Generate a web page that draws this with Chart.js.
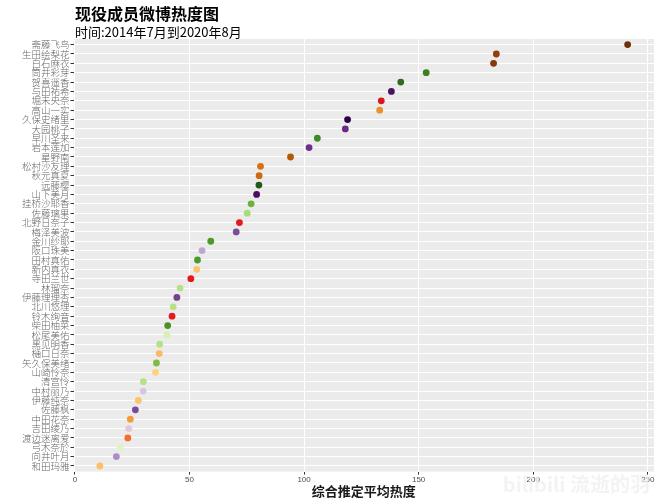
<!DOCTYPE html>
<html>
<head>
<meta charset="utf-8">
<script src="https://cdn.jsdelivr.net/npm/chart.js@4"></script>
<style>
  html, body { margin: 0; padding: 0; background: #ffffff; }
  #wrap { position: relative; width: 658px; height: 500px; }
  #title { position: absolute; left: 75px; top: 3px; font-family: "Noto Sans CJK SC", "Noto Sans", sans-serif; font-size: 16px; font-weight: bold; color: #000; line-height: 20px; white-space: nowrap; }
  #subtitle { position: absolute; left: 75px; top: 23px; font-family: "Noto Sans CJK SC", "Noto Sans", sans-serif; font-size: 13px; color: #000; line-height: 17px; white-space: nowrap; }
  #wm { position: absolute; right: 8px; bottom: 2px; font-family: "Noto Sans CJK SC", sans-serif; font-size: 20px; font-weight: bold; color: rgba(240,240,240,0.8); white-space: nowrap; pointer-events: none; }
</style>
</head>
<body>
<div id="wrap">
  <canvas id="c" width="658" height="500"></canvas>
  <div id="title">现役成员微博热度图</div>
  <div id="subtitle">时间:2014年7月到2020年8月</div>
  <div id="wm">bilibili 流逝的羽</div>
</div>
<script>
// ---- data ----
const members = [
  "斋藤飞鸟","生田绘梨花","白石麻衣","筒井彩芽","贺喜遥香","与田祐希","堀未央奈","高山一实",
  "久保史绪里","大园桃子","早川圣来","岩本莲加","星野南","松村沙友理","秋元真夏","远藤樱",
  "山下美月","挂桥沙耶香","佐藤璃果","北野日奈子","梅泽美波","金川纱耶","阪口珠美","田村真佑",
  "新内真衣","寺田兰世","林瑠奈","伊藤理理杏","北川悠理","铃木绚音","柴田柚菜","松尾美佑",
  "黑见明香","樋口日奈","矢久保美绪","山崎怜奈","清宫怜","中村丽乃","伊藤纯奈","佐藤枫",
  "中田花奈","吉田绫乃","渡边迷离爱","弓木奈於","向井叶月","和田玛雅"
];
const heat = [
  241.2, 183.9, 182.7, 153.3, 142.2, 138.1, 133.7, 133.0,
  119.0, 118.0, 105.8, 102.2, 94.1, 81.0, 80.4, 80.3,
  79.3, 76.9, 75.2, 71.8, 70.4, 59.3, 55.5, 53.5,
  53.2, 50.6, 45.9, 44.5, 42.9, 42.4, 40.5, 40.1,
  37.0, 36.8, 35.6, 35.2, 29.9, 29.8, 27.7, 26.4,
  24.2, 23.5, 23.1, 19.9, 18.1, 10.9
];
const xTicks = [0, 50, 100, 150, 200, 250];
const xTitle = "综合推定平均热度";
const pointColors = [
  "#6f310b","#8f3f0c","#853a0b","#3f7f24","#2f6b1e","#4a1460","#d7191c","#ee8f2e",
  "#2d004b","#6a2a8a","#3d8a26","#6c2f8c","#b35806","#d9700f","#cf6a10","#1f5a17",
  "#4a1060","#6cb33a","#a6dc7a","#e31a1c","#7b4b9a","#4d9a2a","#c2a5cf","#4d9a2a",
  "#fdc36b","#e31a1c","#b8e186","#76428a","#b8e186","#e31a1c","#4d9221","#d9f0b3",
  "#b8e186","#fdb863","#7fbc41","#fdd27a","#b8e186","#d8c5e0","#fdc36b","#7b4b9a",
  "#f59a3c","#e2c6e0","#f46d2a","#e0f3c0","#b08cc4","#fdc068"
];

const points = heat.map((v, i) => ({ x: v, y: i }));

new Chart(document.getElementById('c'), {
  type: 'scatter',
  data: {
    datasets: [{
      data: points,
      pointBackgroundColor: pointColors,
      pointBorderWidth: 0,
      pointRadius: 3.4,
      pointHoverRadius: 3.4
    }]
  },
  options: {
    responsive: false,
    animation: false,
    events: [],
    layout: { padding: { top: 39, right: 4, bottom: 0, left: 0 } },
    plugins: {
      legend: { display: false },
      tooltip: { enabled: false },
      title: { display: false }
    },
    scales: {
      x: {
        type: 'linear',
        min: -0.6,
        max: 252.7,
        afterBuildTicks: (s) => { s.ticks = xTicks.map(v => ({ value: v })); },
        afterFit: (s) => { s.height = 28.4; },
        border: { display: false },
        grid: { color: '#ffffff', lineWidth: 1, drawTicks: true, tickLength: 3, tickColor: '#333333' },
        ticks: { color: '#4d4d4d', padding: 0, font: { family: 'Liberation Sans, Arial, sans-serif', size: 8 }, maxRotation: 0 },
        title: { display: true, text: xTitle, color: '#1a1a1a', padding: { top: 0, bottom: 1 },
                 font: { family: '"Noto Sans CJK SC", sans-serif', size: 13, weight: 'bold' } }
      },
      y: {
        type: 'linear',
        reverse: true,
        min: -0.6,
        max: members.length - 1 + 0.6,
        afterBuildTicks: (s) => { s.ticks = members.map((m, i) => ({ value: i })); },
        afterFit: (s) => { s.width = 73.5; },
        border: { display: false },
        grid: { color: '#ffffff', lineWidth: 1, drawTicks: true, tickLength: 3, tickColor: '#333333' },
        ticks: {
          autoSkip: false,
          color: '#666666',
          padding: 1,
          font: { family: '"Noto Sans CJK SC", sans-serif', size: 9.5, weight: 300 },
          callback: (v) => members[v]
        }
      }
    }
  },
  plugins: [{
    id: 'panelBg',
    beforeDraw(chart) {
      const a = chart.chartArea, ctx = chart.ctx;
      ctx.save();
      ctx.fillStyle = '#ebebeb';
      ctx.fillRect(a.left, a.top, a.right - a.left, a.bottom - a.top);
      ctx.restore();
    }
  }]
});
</script>
</body>
</html>
